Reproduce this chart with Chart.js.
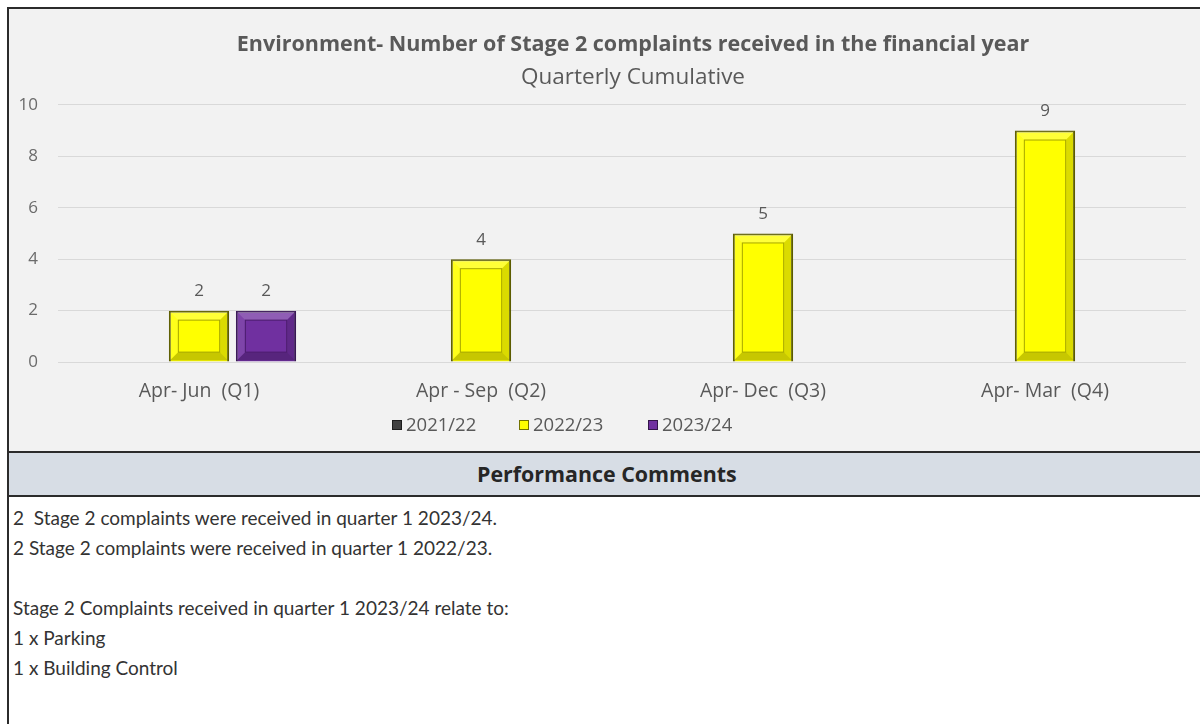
<!DOCTYPE html>
<html>
<head>
<meta charset="utf-8">
<script src="https://cdn.jsdelivr.net/npm/chart.js@4.4.0/dist/chart.umd.min.js"></script>
<style>
    html, body {
        margin: 0;
        background: #ffffff;
        overflow: hidden;
        width: 1200px;
        height: 724px;
    }
    #frame {
        position: absolute;
        left: 7px;
        top: 7px;
        width: 1300px;
        height: 800px;
        border-left: 2px solid #2b2b2b;
        border-top: 2px solid #2b2b2b;
    }
    #chartBox {
        position: relative;
        height: 442px;
        background: #f2f2f2;
    }
    #chartBox canvas {
        position: absolute;
        left: 0;
        top: 0;
    }
    #legend {
        position: absolute;
        top: 404px;
        left: 383px;
        font-family: "Open Sans", sans-serif;
        font-size: 18.5px;
        color: #595959;
    }
    .item {
        position: absolute;
        top: 0;
        white-space: nowrap;
        line-height: 22px;
    }
    .swatch {
        display: inline-block;
        width: 8px;
        height: 8px;
        margin-right: 4px;
        border: 1px solid rgba(0, 0, 0, 0.55);
        vertical-align: 1px;
    }
    #header {
        border-top: 2px solid #2b2b2b;
        border-bottom: 2px solid #2b2b2b;
        height: 42px;
        background: #d7dde5;
        font-family: "Open Sans", sans-serif;
        font-weight: bold;
        font-size: 21.4px;
        color: #262626;
        line-height: 42px;
        padding-left: 468px;
    }
    #comments {
        padding: 6px 0 0 4px;
        font-family: Lato, "Open Sans", sans-serif;
        font-size: 19px;
        line-height: 30px;
        color: #333333;
        white-space: pre;
    }
</style>
</head>
<body>
<div id="frame">
    <div id="chartBox">
        <canvas id="myChart" width="1248" height="442"></canvas>
        <div id="legend"></div>
    </div>
    <div id="header">Performance Comments</div>
    <div id="comments"></div>
</div>
<script>
const labels = [
    "Apr- Jun  (Q1)",
    "Apr - Sep  (Q2)",
    "Apr- Dec  (Q3)",
    "Apr- Mar  (Q4)",
];
const seriesNames = ["2021/22", "2022/23", "2023/24"];
const values2122 = [null, null, null, null];
const values2223 = [2, 4, 5, 9];
const values2324 = [2, null, null, null];
const yTicks = [0, 2, 4, 6, 8, 10];

const fills = ["#404040", "#ffff00", "#7030a0"];
const edges = ["#1f1f1f", "#5e5e00", "#3a1858"];

const commentLines = [
    "2  Stage 2 complaints were received in quarter 1 2023/24.",
    "2 Stage 2 complaints were received in quarter 1 2022/23.",
    "",
    "Stage 2 Complaints received in quarter 1 2023/24 relate to:",
    "1 x Parking",
    "1 x Building Control",
];

const fontFamily = "'Open Sans', sans-serif";

// bevelled look on each bar: light/dark bands and an inner frame
const bevelPlugin = {
    id: "bevel",
    afterDatasetsDraw(chart) {
        const ctx = chart.ctx;
        chart.data.datasets.forEach((ds, i) => {
            const meta = chart.getDatasetMeta(i);
            meta.data.forEach((bar, j) => {
                if (ds.data[j] == null) return;
                const left = bar.x - bar.width / 2 + 1;
                const right = bar.x + bar.width / 2 - 1;
                const top = bar.y + 1;
                const bottom = bar.base - 1;
                const inset = 8;
                ctx.save();
                // top band
                ctx.fillStyle = "rgba(255,255,255,0.22)";
                ctx.beginPath();
                ctx.moveTo(left, top);
                ctx.lineTo(right, top);
                ctx.lineTo(right - inset, top + inset);
                ctx.lineTo(left + inset, top + inset);
                ctx.fill();
                // left band
                ctx.fillStyle = "rgba(255,255,255,0.1)";
                ctx.beginPath();
                ctx.moveTo(left, top);
                ctx.lineTo(left + inset, top + inset);
                ctx.lineTo(left + inset, bottom - inset);
                ctx.lineTo(left, bottom);
                ctx.fill();
                // right band
                ctx.fillStyle = "rgba(0,0,0,0.14)";
                ctx.beginPath();
                ctx.moveTo(right, top);
                ctx.lineTo(right, bottom);
                ctx.lineTo(right - inset, bottom - inset);
                ctx.lineTo(right - inset, top + inset);
                ctx.fill();
                // bottom band
                ctx.fillStyle = "rgba(0,0,0,0.22)";
                ctx.beginPath();
                ctx.moveTo(left, bottom);
                ctx.lineTo(right, bottom);
                ctx.lineTo(right - inset, bottom - inset);
                ctx.lineTo(left + inset, bottom - inset);
                ctx.fill();
                // inner frame
                ctx.strokeStyle = "rgba(60,60,0,0.45)";
                if (i === 2) ctx.strokeStyle = "rgba(40,10,60,0.5)";
                ctx.lineWidth = 1;
                ctx.strokeRect(left + inset + 0.5, top + inset + 0.5,
                    right - left - 2 * inset - 1, bottom - top - 2 * inset - 1);
                ctx.restore();
            });
        });
    },
};

// value labels above the bars
const valueLabels = {
    id: "valueLabels",
    afterDatasetsDraw(chart) {
        const ctx = chart.ctx;
        ctx.save();
        ctx.font = "17px " + fontFamily;
        ctx.fillStyle = "#595959";
        ctx.textAlign = "center";
        ctx.textBaseline = "middle";
        chart.data.datasets.forEach((ds, i) => {
            chart.getDatasetMeta(i).data.forEach((bar, j) => {
                if (ds.data[j] == null) return;
                ctx.fillText(String(ds.data[j]), bar.x, bar.y - 19);
            });
        });
        ctx.restore();
    },
};

const data = {
    labels: labels,
    datasets: [
        {
            label: seriesNames[0],
            backgroundColor: fills[0],
            borderColor: edges[0],
            borderWidth: 2,
            data: values2122,
        },
        {
            label: seriesNames[1],
            backgroundColor: fills[1],
            borderColor: edges[1],
            borderWidth: 2,
            data: values2223,
        },
        {
            label: seriesNames[2],
            backgroundColor: fills[2],
            borderColor: edges[2],
            borderWidth: 2,
            data: values2324,
        },
    ],
};

const config = {
    type: "bar",
    data: data,
    options: {
        responsive: false,
        animation: false,
        categoryPercentage: 0.713,
        barPercentage: 0.9,
        layout: {
            padding: { left: 0, right: 0, top: 0, bottom: 29.5 },
        },
        plugins: {
            legend: { display: false },
            tooltip: { enabled: false },
            title: {
                display: true,
                text: "Environment- Number of Stage 2 complaints received in the financial year",
                color: "#595959",
                font: { family: fontFamily, size: 21.5, weight: "bold" },
                padding: { top: 23, bottom: 6 },
            },
            subtitle: {
                display: true,
                text: "Quarterly Cumulative",
                color: "#595959",
                font: { family: fontFamily, size: 22.5 },
                padding: { top: 0, bottom: 14 },
            },
        },
        scales: {
            x: {
                grid: { display: false, drawTicks: false },
                border: { display: false },
                ticks: {
                    color: "#595959",
                    font: { family: fontFamily, size: 19.5 },
                    padding: 18,
                },
            },
            y: {
                min: 0,
                max: 10,
                afterBuildTicks(scale) {
                    scale.ticks = yTicks.map((v) => ({ value: v }));
                },
                afterFit(scale) {
                    scale.width = 49;
                },
                grid: { color: "#d9d9d9", drawTicks: false },
                border: { display: false },
                ticks: {
                    color: "#6b6b6b",
                    font: { family: fontFamily, size: 17 },
                    padding: 20,
                },
            },
            // empty right-hand spacer so the plot stops short of the canvas edge
            spacer: {
                type: "linear",
                position: "right",
                display: true,
                grid: { display: false, drawTicks: false },
                border: { display: false },
                ticks: { display: false },
                afterFit(scale) {
                    scale.width = 71;
                },
            },
        },
    },
    plugins: [bevelPlugin, valueLabels],
};

const myChart = new Chart(document.getElementById("myChart"), config);

// legend row under the axis
const legendEl = document.getElementById("legend");
const legendX = [0, 127, 256];
seriesNames.forEach((name, i) => {
    const item = document.createElement("div");
    item.className = "item";
    item.style.left = legendX[i] + "px";
    const sw = document.createElement("span");
    sw.className = "swatch";
    sw.style.background = fills[i];
    item.appendChild(sw);
    item.appendChild(document.createTextNode(name));
    legendEl.appendChild(item);
});

// comment text lines
const commentsEl = document.getElementById("comments");
commentLines.forEach((line) => {
    const div = document.createElement("div");
    div.textContent = line === "" ? " " : line;
    commentsEl.appendChild(div);
});
</script>
</body>
</html>
